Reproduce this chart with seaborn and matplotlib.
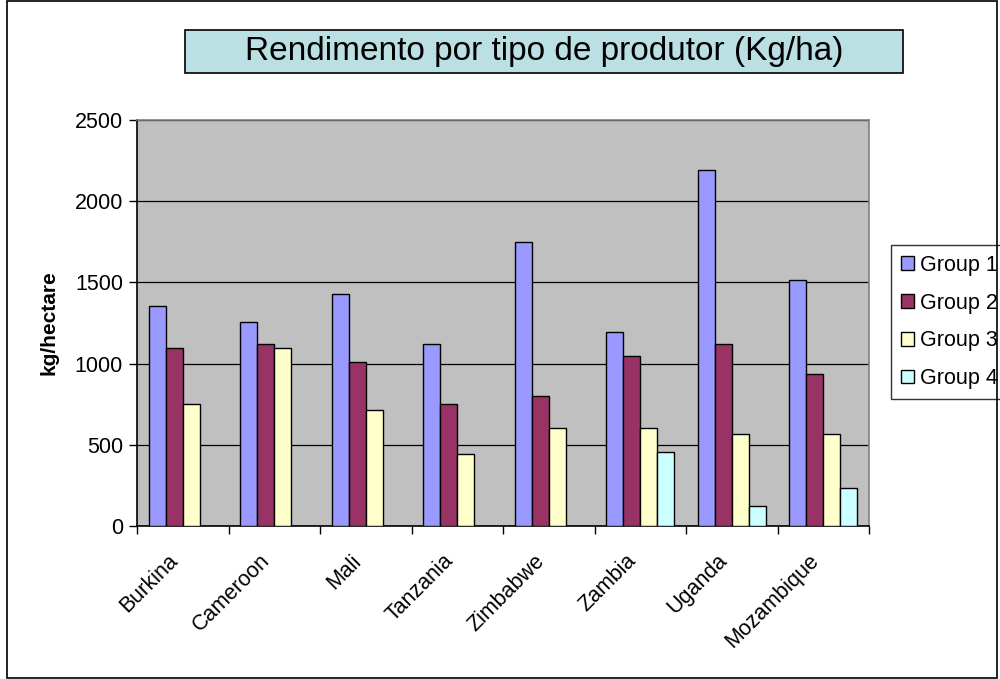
import numpy as np
import pandas as pd
import matplotlib
matplotlib.use("Agg")
import matplotlib.pyplot as plt
from matplotlib.patches import Rectangle
from matplotlib.transforms import ScaledTranslation
import seaborn as sns

# data
countries = ["Burkina", "Cameroon", "Mali", "Tanzania", "Zimbabwe", "Zambia", "Uganda", "Mozambique"]
groups = ["Group 1", "Group 2", "Group 3", "Group 4"]
group1 = [1355, 1256, 1431, 1119, 1749, 1197, 2192, 1515]
group2 = [1096, 1119, 1008, 751, 800, 1045, 1119, 934]
group3 = [751, 1096, 714, 443, 601, 601, 566, 566]
group4 = [np.nan, np.nan, np.nan, np.nan, np.nan, 456, 121, 232]
colors = ["#9999FF", "#993366", "#FFFFCC", "#CCFFFF"]

df = pd.DataFrame({"country": countries, "Group 1": group1, "Group 2": group2,
                   "Group 3": group3, "Group 4": group4})
long_df = df.melt(id_vars="country", var_name="group", value_name="yield").dropna()

sns.set_style("white")
plt.rcParams["font.family"] = ["Liberation Sans", "DejaVu Sans"]
plt.rcParams["text.color"] = "black"
plt.rcParams["axes.labelcolor"] = "black"
plt.rcParams["xtick.color"] = "black"
plt.rcParams["ytick.color"] = "black"

fig = plt.figure(figsize=(10, 6.79), dpi=100)
ax = fig.add_axes([0.137, 0.2253, 0.732, 0.598])
ax.set_facecolor("#C0C0C0")

sns.barplot(data=long_df, x="country", y="yield", hue="group", order=countries,
            hue_order=groups, palette=colors, saturation=1, edgecolor="black", linewidth=1,
            width=0.745, errorbar=None, ax=ax, zorder=3)

ax.set_ylim(0, 2500)
ax.set_xlim(-0.5, len(countries) - 0.5)
ax.set_yticks(range(0, 2501, 500))
ax.yaxis.grid(True, color="black", linewidth=0.9)
ax.set_axisbelow(True)
ax.set_xlabel("")
ax.set_ylabel("kg/hectare", fontsize=15, fontweight="bold", labelpad=12)

ax.tick_params(axis="y", direction="out", length=6, width=1, labelsize=15.5, pad=4, left=True)
ax.tick_params(axis="x", which="major", length=0, labelsize=15.5, pad=14)
ax.set_xticks(np.arange(-0.5, len(countries)), minor=True)
ax.tick_params(axis="x", which="minor", direction="out", length=6, width=1, bottom=True)
shift = ScaledTranslation(-0.15, -0.05, fig.dpi_scale_trans)
for lbl in ax.get_xticklabels():
    lbl.set_rotation(45)
    lbl.set_ha("right")
    lbl.set_rotation_mode("anchor")
    lbl.set_transform(lbl.get_transform() + shift)

for side in ["left", "bottom"]:
    ax.spines[side].set_color("black")
    ax.spines[side].set_linewidth(1.2)
for side in ["top", "right"]:
    ax.spines[side].set_color("#808080")
    ax.spines[side].set_linewidth(1.2)

leg = ax.legend(loc="upper left", bbox_to_anchor=(0.891, 0.639), bbox_transform=fig.transFigure,
                frameon=True, fancybox=False, fontsize=15.5, handlelength=0.6, handleheight=0.6,
                handletextpad=0.3, labelspacing=0.78, borderpad=0.45, borderaxespad=0)
leg.get_frame().set_edgecolor("black")
leg.get_frame().set_linewidth(1)

# title box
fig.patches.append(Rectangle((0.185, 1 - 73 / 679), 0.718, 43 / 679, transform=fig.transFigure,
                             facecolor="#BBE0E3", edgecolor="black", linewidth=1.2, figure=fig))
fig.text(0.544, 1 - 51.5 / 679, "Rendimento por tipo de produtor (Kg/ha)", ha="center",
         va="center", fontsize=24)

# outer border
fig.patches.append(Rectangle((0.007, 0.002), 0.99, 0.996, transform=fig.transFigure,
                             facecolor="none", edgecolor="black", linewidth=1.2, figure=fig))

fig.savefig("out.png", dpi=100)
